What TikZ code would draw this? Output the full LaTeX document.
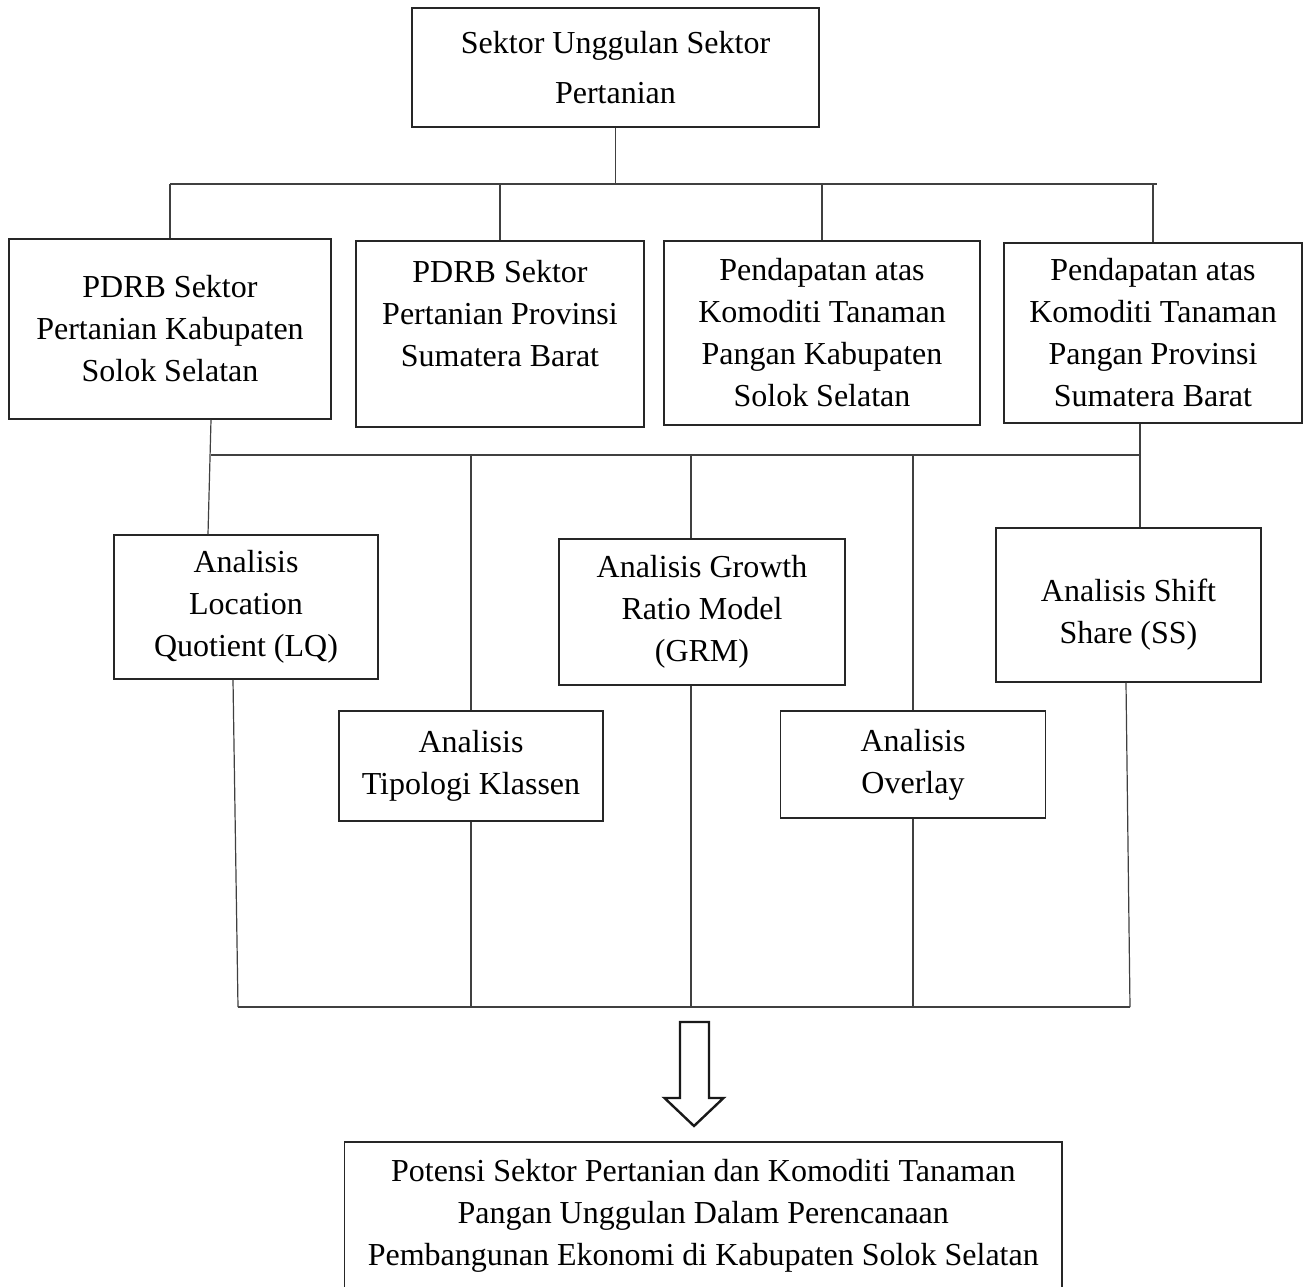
\documentclass[tikz,border=0pt]{standalone}
\usepackage{fontspec}
\setmainfont{Liberation Serif}
\usepackage{tikz}
\usetikzlibrary{arrows.meta, positioning, calc}
\tikzset{
  box/.style={draw=black!85, line width=1.5pt, align=center, inner sep=0pt, fill=white},
  link/.style={draw=black!75, line width=1.2pt},
  bigarrow/.style={draw=black!90, line width=2.4pt, line join=miter, fill=white},
  every node/.style={font=\fontsize{32}{42}\selectfont}
}

\begin{document}
\begin{tikzpicture}[x=1pt,y=-1pt]
    \useasboundingbox (0,0) rectangle (1310,1287);
    % top
    \node[box, minimum width=407pt, minimum height=119pt, font=\fontsize{32}{50}\selectfont] (unggulan) at (615.5,67.5) {Sektor Unggulan Sektor\\Pertanian};
    % data
    \node[box, minimum width=322pt, minimum height=180pt] (pdrbkab) at (170,329) {PDRB Sektor\\Pertanian Kabupaten\\Solok Selatan};
    \node[box, minimum width=288pt, minimum height=186pt] (pdrbprov) at (500,334) {PDRB Sektor\\Pertanian Provinsi\\Sumatera Barat\\\mbox{}};
    \node[box, minimum width=316pt, minimum height=184pt] (pendkab) at (822,333) {Pendapatan atas\\Komoditi Tanaman\\Pangan Kabupaten\\Solok Selatan};
    \node[box, minimum width=298pt, minimum height=180pt] (pendprov) at (1153,333) {Pendapatan atas\\Komoditi Tanaman\\Pangan Provinsi\\Sumatera Barat};
    % analisis
    \node[box, minimum width=264pt, minimum height=144pt] (lq) at (246,607) {Analisis\\Location\\Quotient (LQ)};
    \node[box, minimum width=264pt, minimum height=110pt] (tipologi) at (471,766) {Analisis\\Tipologi Klassen};
    \node[box, minimum width=286pt, minimum height=146pt] (grm) at (702,612) {Analisis Growth\\Ratio Model\\(GRM)};
    \node[box, minimum width=265pt, minimum height=107pt] (overlay) at (913,764.5) {Analisis\\Overlay};
    \node[box, minimum width=265pt, minimum height=154pt] (shiftshare) at (1128.5,605) {\rule{0pt}{42pt}Analisis Shift\\Share (SS)};
    % hasil
    \node[box, minimum width=717.5pt, minimum height=147pt] (potensi) at (703.25,1215.5) {Potensi Sektor Pertanian dan Komoditi Tanaman\\Pangan Unggulan Dalam Perencanaan\\Pembangunan Ekonomi di Kabupaten Solok Selatan};

    % busses
    \coordinate (busTopL) at (170,184);
    \coordinate (busTopR) at (1157,184);
    \coordinate (busMidL) at (211,455);
    \coordinate (busMidR) at (1140,455);
    \coordinate (busBotL) at (238,1007);
    \coordinate (busBotR) at (1130,1007);

    \draw[link] (busTopL) -- (busTopR);
    \draw[link] (unggulan.south) -- (unggulan.south |- busTopL);
    \foreach \n in {pdrbkab, pdrbprov, pendkab, pendprov}
      \draw[link] (\n.north |- busTopL) -- (\n.north);

    \draw[link] (busMidL) -- (busMidR);
    \draw[link] ([xshift=41pt]pdrbkab.south) -- ([xshift=-38pt]lq.north);
    \draw[link] ([xshift=-13pt]pendprov.south) -- ([xshift=11.5pt]shiftshare.north);
    \draw[link] (tipologi.north |- busMidL) -- (tipologi.north);
    \draw[link] ([xshift=-11pt]grm.north |- busMidL) -- ([xshift=-11pt]grm.north);
    \draw[link] (overlay.north |- busMidL) -- (overlay.north);

    \draw[link] (busBotL) -- (busBotR);
    \draw[link] ([xshift=-13pt]lq.south) -- (busBotL);
    \draw[link] ([xshift=-2.5pt]shiftshare.south) -- (busBotR);
    \draw[link] (tipologi.south) -- (tipologi.south |- busBotL);
    \draw[link] ([xshift=-11pt]grm.south) -- ([xshift=-11pt]grm.south |- busBotL);
    \draw[link] (overlay.south) -- (overlay.south |- busBotL);

    % arrow
    \coordinate (arrowtop) at (694.5,1022);
    \draw[bigarrow] (arrowtop) ++(-14.5,0) -- ++(29,0) -- ++(0,76) -- ++(14.5,0) -- ++(-29.5,28) -- ++(-29.5,-28) -- ++(15.5,0) -- cycle;
\end{tikzpicture}
\end{document}
